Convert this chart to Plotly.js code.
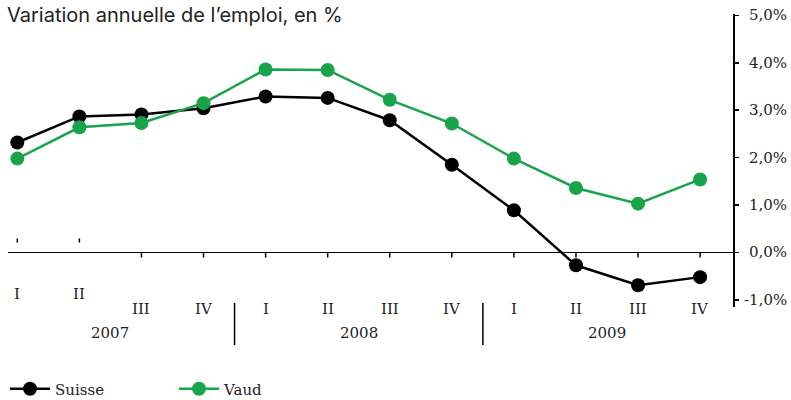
<!DOCTYPE html>
<html><head><meta charset="utf-8">
<script src="https://cdn.plot.ly/plotly-3.0.1.min.js"></script>
<style>body{margin:0;background:#fff}</style>
</head><body>
<div id="chart" style="width:791px;height:400px"></div>
<script>
var categories = ['2007-I','2007-II','2007-III','2007-IV','2008-I','2008-II','2008-III','2008-IV','2009-I','2009-II','2009-III','2009-IV'];
var quarterLabels = ['I','II','III','IV','I','II','III','IV','I','II','III','IV'];
var years = ['2007','2008','2009'];
var suisse = [2.32, 2.87, 2.91, 3.04, 3.29, 3.26, 2.79, 1.85, 0.89, -0.27, -0.69, -0.52];
var vaud = [1.98, 2.64, 2.73, 3.15, 3.86, 3.85, 3.22, 2.72, 1.98, 1.36, 1.03, 1.54];
var yTickVals = [-1, 0, 1, 2, 3, 4, 5];
var yTickText = ['-1,0%', '0,0%', '1,0%', '2,0%', '3,0%', '4,0%', '5,0%'];

var GREEN = '#19a34a';
var serif = 'DejaVu Serif';
var TXT = '#222';
var PLOT_BOTTOM = 307, PLOT_H = 293, PLOT_L = 8, PLOT_W = 725;
function py(px){ return (PLOT_BOTTOM - px) / PLOT_H; }
function pxX(px){ return (px - PLOT_L) / PLOT_W; }

var traces = [
  {x: categories, y: suisse, name: 'Suisse', type: 'scatter', mode: 'lines+markers',
   line: {color: '#000', width: 2.5}, marker: {color: '#000', size: 14}},
  {x: categories, y: vaud, name: 'Vaud', type: 'scatter', mode: 'lines+markers',
   line: {color: GREEN, width: 2.5}, marker: {color: GREEN, size: 14}}
];

var shapes = [];
var annotations = [];
categories.forEach(function(c, i){
  var early = (i < 2);
  shapes.push({type: 'line', xref: 'x', yref: 'y', ysizemode: 'pixel', yanchor: 0,
    x0: i, x1: i, y0: early ? 10 : 0, y1: early ? 14 : -5, line: {color: '#000', width: 1.5}});
  annotations.push({x: c, xref: 'x', yref: 'paper', y: early ? py(294) : py(309), yanchor: 'middle',
    text: quarterLabels[i], showarrow: false, font: {family: serif, size: 15, color: TXT}});
});
years.forEach(function(yr, k){
  annotations.push({x: 4*k + 1.5, xref: 'x', yref: 'paper', y: py(333), yanchor: 'middle',
    text: yr, showarrow: false, font: {family: serif, size: 15, color: TXT}});
  if (k > 0) {
    shapes.push({type: 'line', xref: 'x', yref: 'paper', x0: 4*k - 0.5, x1: 4*k - 0.5,
      y0: py(303), y1: py(345), line: {color: '#000', width: 1.5}});
  }
});
yTickVals.forEach(function(v, i){
  annotations.push({x: pxX(789), xref: 'paper', xanchor: 'right', y: v, yref: 'y', yanchor: 'middle',
    text: yTickText[i], showarrow: false, font: {family: serif, size: 15, color: TXT}});
});

var layout = {
  width: 791, height: 400,
  margin: {l: 8, r: 58, t: 14, b: 93, autoexpand: false},
  paper_bgcolor: '#fff', plot_bgcolor: '#fff',
  showlegend: true,
  title: {text: 'Variation annuelle de l\u2019emploi, en %', x: 7/791, xanchor: 'left', xref: 'container',
    y: 1 - 15/400, yref: 'container', yanchor: 'middle',
    font: {family: 'Inter', size: 20, color: TXT}},
  xaxis: {type: 'category', range: [-0.15, 11.53], showgrid: false, zeroline: false,
    showline: false, showticklabels: false, ticks: '', fixedrange: true},
  yaxis: {side: 'right', range: [-1.15, 5.03], showgrid: false, zeroline: true,
    zerolinecolor: '#000', zerolinewidth: 1.5, showline: true, linecolor: '#000', linewidth: 1.5,
    ticks: 'outside', ticklen: 4, tickcolor: '#000', tickwidth: 1.5,
    tickvals: yTickVals, showticklabels: false},
  legend: {orientation: 'h', x: 5/791, xanchor: 'left', xref: 'container',
    y: 1 - 389/400, yref: 'container', yanchor: 'middle',
    entrywidth: 114, entrywidthmode: 'pixels',
    font: {family: serif, size: 15, color: TXT}, itemwidth: 40,
    bgcolor: 'rgba(0,0,0,0)'},
  shapes: shapes,
  annotations: annotations
};

Plotly.newPlot('chart', traces, layout, {displayModeBar: false, staticPlot: true});
</script>
</body></html>
